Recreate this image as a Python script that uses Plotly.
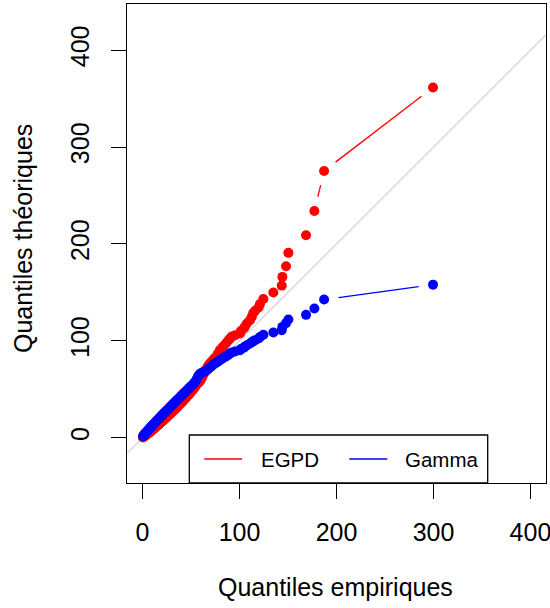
import plotly.graph_objects as go

# ---------------- data ----------------
empirical = [0.5, 1.0, 1.8, 2.5, 3.3, 4.1, 5.0, 5.8, 6.9, 7.7, 8.6, 9.5, 10.4, 11.6, 12.5,
             13.3, 14.4, 15.5, 16.4, 17.2, 18.3, 19.5, 20.6, 21.4, 22.6, 23.8, 24.7, 25.9,
             27.0, 28.1, 29.3, 30.2, 31.5, 32.6, 33.7, 34.9, 36.0, 37.2, 38.4, 39.5, 40.8,
             42.0, 43.1, 44.4, 45.6, 46.9, 48.1, 49.4, 50.6, 51.9, 53.2, 54.5, 55.9, 57.3,
             58.8, 60.2, 61.8, 63.5, 65.3, 67.2, 69.0, 71.0, 73.2, 75.3, 77.6, 79.8, 82.0,
             83.4, 86.1, 88.4, 90.2, 92.0, 95.5, 100.5, 101.4, 104.3, 105.6, 107.6, 110.8,
             112.6, 114.2, 116.1, 119.7, 121.1, 124.6, 134.9, 143.5, 144.2, 148.0, 150.4,
             168.6, 177.2, 187.2, 299.5]

egpd = [0.3, 0.7, 1.3, 1.9, 2.5, 3.1, 3.8, 4.4, 5.3, 6.0, 6.7, 7.5, 8.2, 9.2, 10.0,
        10.7, 11.6, 12.6, 13.4, 14.1, 15.1, 16.2, 17.2, 17.9, 19.0, 20.1, 21.0, 22.1,
        23.2, 24.3, 25.4, 26.3, 27.6, 28.7, 29.8, 31.0, 32.1, 33.3, 34.5, 35.7, 37.0,
        38.3, 39.5, 40.8, 42.2, 43.6, 45.0, 46.5, 48.0, 49.5, 51.2, 53.0, 55.0, 56.8,
        57.8, 60.0, 63.0, 66.5, 70.0, 73.5, 76.0, 78.5, 81.0, 83.0, 86.6, 90.4, 92.5,
        94.3, 97.5, 100.3, 102.5, 104.5, 105.8, 107.6, 110.0, 112.7, 114.5, 117.9, 121.3,
        124.7, 128.8, 131.0, 134.5, 138.0, 143.2, 149.8, 157.0, 166.0, 177.0, 190.8,
        209.0, 234.0, 275.3, 361.5]

gamma = [1.5, 2.2, 3.2, 4.0, 5.0, 6.0, 7.0, 7.9, 9.1, 10.0, 11.0, 12.0, 13.0, 14.2, 15.2,
         16.0, 17.2, 18.3, 19.3, 20.2, 21.3, 22.5, 23.6, 24.5, 25.7, 26.9, 27.8, 29.0,
         30.2, 31.3, 32.5, 33.4, 34.7, 35.8, 36.9, 38.1, 39.2, 40.4, 41.6, 42.7, 44.0,
         45.2, 46.3, 47.6, 48.8, 50.0, 51.2, 52.5, 53.7, 55.0, 56.5, 58.0, 60.5, 63.5,
         65.5, 66.5, 67.3, 68.0, 69.0, 70.5, 72.0, 73.5, 75.5, 77.0, 78.5, 80.0, 81.5,
         82.5, 84.0, 85.5, 87.0, 88.0, 89.0, 90.4, 91.5, 93.0, 94.0, 95.5, 97.3,
         98.5, 99.5, 100.7, 102.5, 104.0, 106.2, 108.6, 111.0, 114.4, 118.3, 122.0,
         126.8, 133.3, 142.6, 158.0]

series_names = ["EGPD", "Gamma"]
series_colors = ["#FF0000", "#0000FF"]
x_ticks = [0, 100, 200, 300, 400]
y_ticks = [0, 100, 200, 300, 400]
x_title = "Quantiles empiriques"
y_title = "Quantiles théoriques"

assert len(empirical) == len(egpd) == len(gamma)

# ---------------- layout geometry ----------------
W, H = 550, 608
ML, MR, MT, MB = 127, 4, 4, 125
PW, PH = W - ML - MR, H - MT - MB
XR = [-16, 416]
YR = [-46.7, 447.6]
sx = PW / (XR[1] - XR[0])
sy = PH / (YR[1] - YR[0])
FONT = "Liberation Sans, Arial, Helvetica, sans-serif"


def gap_segments(xs, ys, gap_px=14.5):
    """R type='b' style: connecting segments with a gap around each point."""
    sxs, sys_ = [], []
    for i in range(len(xs) - 1):
        dxp = (xs[i + 1] - xs[i]) * sx
        dyp = (ys[i + 1] - ys[i]) * sy
        d = (dxp ** 2 + dyp ** 2) ** 0.5
        if d > 2 * gap_px:
            f = gap_px / d
            sxs += [xs[i] + (xs[i + 1] - xs[i]) * f, xs[i + 1] - (xs[i + 1] - xs[i]) * f, None]
            sys_ += [ys[i] + (ys[i + 1] - ys[i]) * f, ys[i + 1] - (ys[i + 1] - ys[i]) * f, None]
    return sxs, sys_


fig = go.Figure()

# reference line y = x
fig.add_trace(go.Scatter(x=XR, y=XR, mode="lines",
                         line=dict(color="#D3D3D3", width=1.2),
                         hoverinfo="skip", showlegend=False))

for name, ys, col in zip(series_names, [egpd, gamma], series_colors):
    lx, ly = gap_segments(empirical, ys)
    fig.add_trace(go.Scatter(x=lx, y=ly, mode="lines", line=dict(color=col, width=1.3),
                             hoverinfo="skip", showlegend=False))
    fig.add_trace(go.Scatter(x=empirical, y=ys, mode="markers", name=name,
                             marker=dict(color=col, size=10, line=dict(width=0)),
                             showlegend=False))


def px2paper_x(px):
    return (px - ML) / PW


def px2paper_y(py):
    return (H - MB - py) / PH


# manual R-style legend
shapes = [dict(type="rect", xref="paper", yref="paper",
               x0=px2paper_x(189.3), x1=px2paper_x(487.7),
               y0=px2paper_y(483), y1=px2paper_y(435),
               line=dict(color="black", width=1.3), fillcolor="white", layer="above")]
annotations = []
leg_line_x = [(204.3, 242.0), (349.3, 387.3)]
leg_text_x = [259, 403]
for (a, b), tx, name, col in zip(leg_line_x, leg_text_x, series_names, series_colors):
    shapes.append(dict(type="line", xref="paper", yref="paper",
                       x0=px2paper_x(a), x1=px2paper_x(b),
                       y0=px2paper_y(459), y1=px2paper_y(459),
                       line=dict(color=col, width=1.3), layer="above"))
    annotations.append(dict(text=name, xref="paper", yref="paper",
                            x=px2paper_x(tx), y=px2paper_y(459.5),
                            xanchor="left", yanchor="middle", showarrow=False,
                            font=dict(family=FONT, size=20.5, color="black")))

# axis titles
annotations.append(dict(text=x_title, xref="paper", yref="paper",
                        x=px2paper_x(335), y=px2paper_y(586.5), xanchor="center",
                        yanchor="middle", showarrow=False,
                        font=dict(family=FONT, size=25, color="black")))
annotations.append(dict(text=y_title, xref="paper", yref="paper",
                        x=px2paper_x(23), y=px2paper_y(239), xanchor="center",
                        yanchor="middle", showarrow=False, textangle=-90,
                        font=dict(family=FONT, size=25, color="black")))

axis_common = dict(showgrid=False, zeroline=False, showline=True, mirror=True,
                   linecolor="black", linewidth=1.3, ticks="outside", ticklen=15,
                   tickwidth=1.3, tickcolor="black", ticklabeloverflow="allow",
                   automargin=False,
                   tickfont=dict(family=FONT, size=25, color="black"))

fig.update_layout(
    width=W, height=H,
    margin=dict(l=ML, r=MR, t=MT, b=MB, autoexpand=False),
    paper_bgcolor="white", plot_bgcolor="white",
    showlegend=False,
    xaxis=dict(range=XR, tickvals=x_ticks, ticklabelstandoff=12, **axis_common),
    yaxis=dict(range=YR, tickvals=y_ticks, tickangle=-90, ticklabelstandoff=12,
               **axis_common),
    shapes=shapes,
    annotations=annotations,
)

fig.write_html("out.html",
               config={"displayModeBar": False},
               post_script="document.body.style.margin='0';document.body.style.padding='0';")

# make sure the page itself has no default margin
with open("out.html", "r", encoding="utf-8") as f:
    html = f.read()
html = html.replace("<head>", "<head><style>html,body{margin:0;padding:0;overflow:hidden;}</style>", 1)
with open("out.html", "w", encoding="utf-8") as f:
    f.write(html)
